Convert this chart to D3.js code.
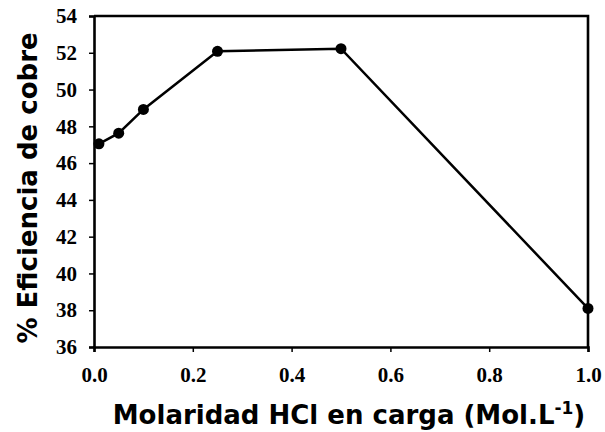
<!DOCTYPE html>
<html>
<head>
<meta charset="utf-8">
<script src="https://cdn.jsdelivr.net/npm/d3@7"></script>
<style>
  body { margin: 0; background: #fff; }
  svg { display: block; }
</style>
</head>
<body>
<div id="chart"></div>
<script>
// data
var molarity = [0.01, 0.05, 0.1, 0.25, 0.5, 1.0];
var efficiency = [47.05, 47.63, 48.92, 52.08, 52.22, 38.1];
var xTicks = [0, 0.2, 0.4, 0.6, 0.8, 1.0];
var yTicks = [36, 38, 40, 42, 44, 46, 48, 50, 52, 54];

var margin = { top: 16, right: 17, bottom: 85, left: 94 },
    width = 605 - margin.left - margin.right,
    height = 432 - margin.top - margin.bottom;

var svg = d3.select("#chart")
    .append("svg")
    .attr("width", 605)
    .attr("height", 432)
    .append("g")
    .attr("transform", "translate(" + margin.left + "," + margin.top + ")");

var x = d3.scaleLinear().domain([0, 1]).range([0, width]);
var y = d3.scaleLinear().domain([36, 54]).range([height, 0]);

// frame (top and right)
svg.append("path")
    .attr("d", "M0," + y(54) + "H" + x(1) + "V" + y(36))
    .attr("fill", "none")
    .attr("stroke", "#000")
    .attr("stroke-width", 2.6);

var xAxis = svg.append("g")
    .attr("transform", "translate(0," + height + ")")
    .call(d3.axisBottom(x).tickValues(xTicks).tickFormat(d3.format(".1f")).tickSize(5).tickPadding(15));

var yAxis = svg.append("g")
    .call(d3.axisLeft(y).tickValues(yTicks).tickFormat(d3.format("d")).tickSize(5).tickPadding(12));

[xAxis, yAxis].forEach(function (g) {
    g.attr("font-size", null).attr("font-family", null);
    g.select(".domain").attr("stroke-width", 2.6);
    g.selectAll(".tick line").attr("stroke-width", 1.5);
    g.selectAll(".tick text")
        .attr("font-family", "'Liberation Serif', 'Times New Roman', serif")
        .attr("font-weight", "bold")
        .attr("font-size", 21)
        .attr("fill", "#000");
});

var line = d3.line()
    .x(function (d, i) { return x(molarity[i]); })
    .y(function (d) { return y(d); });

svg.append("path")
    .datum(efficiency)
    .attr("d", line)
    .attr("fill", "none")
    .attr("stroke", "#000")
    .attr("stroke-width", 2.5);

svg.selectAll("circle")
    .data(efficiency)
    .enter()
    .append("circle")
    .attr("cx", function (d, i) { return x(molarity[i]); })
    .attr("cy", function (d) { return y(d); })
    .attr("r", 5.5)
    .attr("fill", "#000");

// x axis label
var xl = svg.append("text")
    .attr("x", (110 + 588) / 2 - margin.left)
    .attr("y", 424 - margin.top)
    .attr("text-anchor", "middle")
    .attr("font-family", "'DejaVu Sans', Verdana, sans-serif")
    .attr("font-weight", "bold")
    .attr("font-size", 26);
xl.append("tspan").text("Molaridad HCl en carga (Mol.L");
xl.append("tspan").attr("dy", -10).attr("font-size", 17).text("-1");
xl.append("tspan").attr("dy", 10).text(")");

// y axis label
svg.append("text")
    .attr("transform", "rotate(-90)")
    .attr("x", -(188 - margin.top))
    .attr("y", 37 - margin.left)
    .attr("text-anchor", "middle")
    .attr("font-family", "'DejaVu Sans', Verdana, sans-serif")
    .attr("font-weight", "bold")
    .attr("font-size", 26)
    .text("% Eficiencia de cobre");
</script>
</body>
</html>
